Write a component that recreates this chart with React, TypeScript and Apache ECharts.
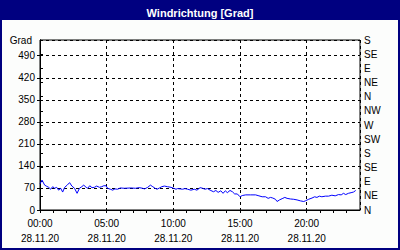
import React, { useEffect, useRef } from "react";
import * as echarts from "echarts";

const titleText = "Windrichtung [Grad]";
const yAxisName = "Grad";
const dateLabel = "28.11.20";
const timeLabels = ["00:00", "05:00", "10:00", "15:00", "20:00"];
const compassLabels = ["N", "NE", "E", "SE", "S", "SW", "W", "NW", "N", "NE", "E", "SE", "S"];

// time of day in hours
const hours = [
  0, 0.15, 0.35, 0.47, 0.65, 0.8, 0.95, 1.1, 1.25, 1.4,
  1.55, 1.7, 1.85, 2.04, 2.22, 2.39, 2.59, 2.78, 2.96, 3.13,
  3.28, 3.46, 3.58, 3.73, 3.9, 4.08, 4.25, 4.46, 4.63, 4.78,
  4.95, 5.07, 5.28, 5.45, 5.62, 5.82, 6.02, 6.32, 6.81, 7.16,
  7.44, 7.69, 7.84, 8.08, 8.28, 8.46, 8.63, 8.78, 8.96, 9.13,
  9.33, 9.57, 9.83, 10.02, 10.2, 10.32, 10.52, 10.69, 10.87, 11.07,
  11.32, 11.57, 11.77, 12.01, 12.19, 12.37, 12.56, 12.76, 13.01, 13.19,
  13.36, 13.56, 13.73, 13.9, 14.05, 14.25, 14.43, 14.6, 14.8, 15.0,
  15.17, 15.43, 15.8, 16.17, 16.42, 16.66, 16.92, 17.11, 17.29, 17.46,
  17.66, 17.78, 17.96, 18.16, 18.36, 18.53, 18.78, 19.03, 19.28, 19.53,
  19.78, 19.9, 20.15, 20.4, 20.6, 20.77, 20.95, 21.14, 21.4, 21.64,
  21.89, 22.14, 22.39, 22.59, 22.76, 22.93, 23.13, 23.33, 23.51, 23.68,
];

// wind direction in degrees
const direction = [
  83, 95, 79, 76, 72, 66, 74, 69, 72, 63,
  69, 57, 72, 79, 87, 76, 69, 53, 69, 74,
  79, 72, 69, 77, 71, 72, 76, 72, 74, 77,
  77, 69, 66, 63, 67, 66, 70, 69, 70, 69,
  71, 69, 67, 72, 79, 74, 69, 66, 70, 74,
  76, 74, 72, 69, 66, 68, 67, 66, 68, 66,
  63, 66, 63, 71, 69, 66, 68, 63, 58, 62,
  56, 61, 53, 61, 55, 62, 58, 51, 51, 42,
  46, 48, 48, 48, 45, 42, 42, 37, 40, 38,
  34, 27, 32, 36, 40, 37, 35, 34, 32, 29,
  27, 29, 34, 38, 42, 40, 44, 42, 44, 44,
  47, 45, 49, 48, 53, 49, 53, 55, 57, 62,
];

const FONT = "Liberation Sans";

export default function App() {
  const ref = useRef<HTMLDivElement>(null);

  useEffect(() => {
    if (!ref.current) return;
    const chart = echarts.init(ref.current, null, { renderer: "svg" });
    const data = hours.map((h, i) => [h, direction[i]]);
    chart.setOption({
      animation: false,
      backgroundColor: "#000080",
      title: {
        text: titleText,
        left: "center",
        top: 2,
        textStyle: { color: "#ffffff", fontWeight: "bold", fontSize: 11, fontFamily: FONT },
      },
      graphic: [
        {
          type: "rect",
          z: -1,
          shape: { x: 2, y: 20, width: 396, height: 228 },
          style: { fill: "#fcfdfc" },
        },
      ],
      grid: {
        left: 40,
        right: 40,
        top: 40,
        bottom: 40,
        show: true,
        backgroundColor: "#ffffff",
        borderColor: "#000000",
        borderWidth: 1,
      },
      xAxis: [
        {
          type: "value",
          min: 0,
          max: 24,
          interval: 1,
          position: "bottom",
          axisLine: { show: true, onZero: false, lineStyle: { color: "#000", width: 1 } },
          axisTick: { show: true, length: 3, lineStyle: { color: "#000" } },
          axisLabel: {
            margin: 6,
            fontSize: 10,
            lineHeight: 15,
            color: "#000",
            fontFamily: FONT,
            showMaxLabel: false,
            formatter: (v: number) => {
              const idx = v / 5;
              if (Number.isInteger(idx) && idx < timeLabels.length) {
                return timeLabels[idx] + "\n" + dateLabel;
              }
              return "";
            },
          },
          splitLine: { show: false },
        },
        {
          type: "value",
          min: 0,
          max: 24,
          interval: 5,
          position: "top",
          axisLine: { show: false },
          axisTick: { show: false },
          axisLabel: { show: false },
          splitLine: { show: true, lineStyle: { color: "#000", type: [3, 3], width: 1 } },
        },
      ],
      yAxis: [
        {
          type: "value",
          min: 0,
          max: 540,
          interval: 70,
          position: "left",
          name: yAxisName,
          nameLocation: "end",
          nameGap: -5,
          nameTextStyle: {
            color: "#000",
            fontSize: 10,
            fontFamily: FONT,
            align: "right",
            padding: [0, 8, 0, 0],
          },
          axisLine: { show: true, lineStyle: { color: "#000" } },
          axisTick: { show: true, length: 3, lineStyle: { color: "#000" } },
          axisLabel: { margin: 5, fontSize: 10, color: "#000", fontFamily: FONT, showMaxLabel: false },
          splitLine: { show: true, lineStyle: { color: "#000", type: [3, 3], width: 1 } },
        },
        {
          type: "value",
          min: 0,
          max: 540,
          interval: 45,
          position: "right",
          axisLine: { show: true, lineStyle: { color: "#000" } },
          axisTick: { show: true, length: 3, lineStyle: { color: "#000" } },
          axisLabel: {
            margin: 4,
            fontSize: 10,
            color: "#000",
            fontFamily: FONT,
            formatter: (v: number) => compassLabels[Math.round(v / 45)] ?? "",
          },
          splitLine: { show: false },
        },
      ],
      series: [
        {
          type: "line",
          xAxisIndex: 0,
          yAxisIndex: 0,
          data,
          showSymbol: false,
          lineStyle: { color: "#0000ff", width: 1 },
          itemStyle: { color: "#0000ff" },
        },
      ],
    });
    return () => chart.dispose();
  }, []);

  return (
    <div
      ref={ref}
      style={{ position: "fixed", left: 0, top: 0, width: 400, height: 250 }}
    />
  );
}
